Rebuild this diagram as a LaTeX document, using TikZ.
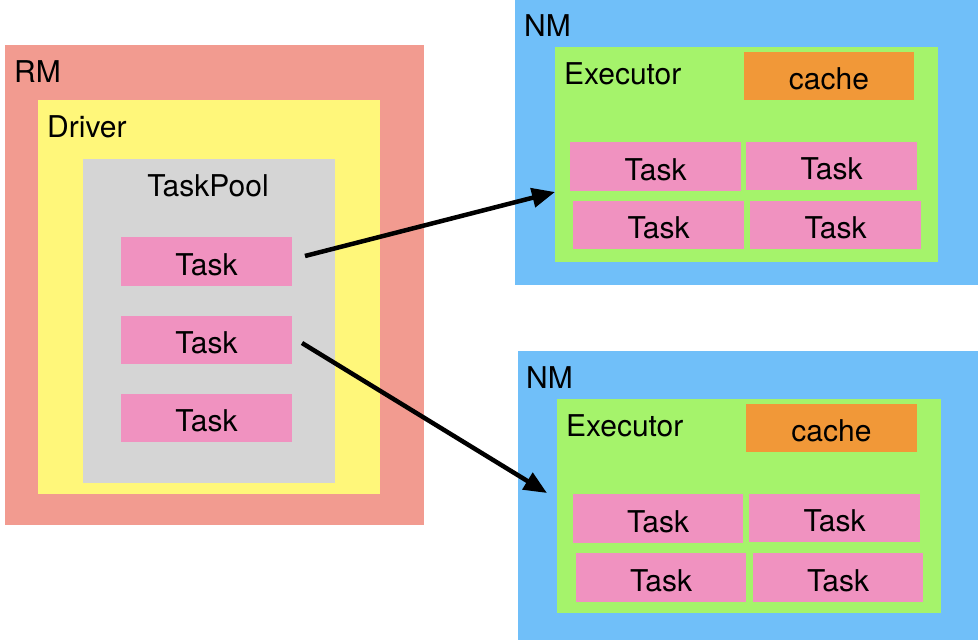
\documentclass[tikz,border=0pt]{standalone}
\usepackage{fontspec}
\setmainfont{TeX Gyre Heros}
\usetikzlibrary{arrows.meta}
\definecolor{rmc}{RGB}{242,155,144}
\definecolor{drvc}{RGB}{255,247,122}
\definecolor{poolc}{RGB}{213,213,213}
\definecolor{taskc}{RGB}{240,146,192}
\definecolor{nmc}{RGB}{112,191,249}
\definecolor{exc}{RGB}{165,243,107}
\definecolor{cachec}{RGB}{241,152,56}
\tikzset{
  blk/.style={anchor=north west, inner sep=0pt, outer sep=0pt, draw=none, text height=27pt, text depth=0pt, font=\fontsize{30}{36}\selectfont},
  taskbox/.style={blk, fill=taskc, minimum width=171pt, minimum height=48pt},
  cachebox/.style={blk, fill=cachec, minimum width=170pt, minimum height=48pt},
  lbl/.style={anchor=base west, inner sep=0pt, font=\fontsize{30}{36}\selectfont},
  flow/.style={line width=4.5pt, -{Triangle[length=23pt, width=19pt]}},
}
\begin{document}
\begin{tikzpicture}[x=1pt, y=-1pt]
\useasboundingbox (0,0) rectangle (978,640);
% left side
\node[blk, fill=rmc, minimum width=419pt, minimum height=480pt] (rm) at (5,45) {};
\node[blk, fill=drvc, minimum width=342pt, minimum height=394pt] (drv) at (38,100) {};
\node[blk, fill=poolc, minimum width=252pt, minimum height=324pt] (pool) at (83,159) {};
\node[lbl] (rmlbl) at (14,82) {RM};
\node[lbl] (drvlbl) at (47,137) {Driver};
\node[lbl, anchor=base] (poollbl) at (208,196) {TaskPool};
\node[taskbox, minimum height=49pt] (t1) at (121,237) {Task};
\node[taskbox] (t2) at (121,316) {Task};
\node[taskbox] (t3) at (121,394) {Task};
% top NM
\node[blk, fill=nmc, minimum width=463pt, minimum height=285pt] (nm1) at (515,0) {};
\node[blk, fill=exc, minimum width=383pt, minimum height=215pt] (ex1) at (555,47) {};
\node[lbl] (nm1lbl) at (524,36) {NM};
\node[lbl] (ex1lbl) at (564,84) {Executor};
\node[cachebox] (c1) at (744,52) {cache};
\node[taskbox, minimum height=49pt] (ta) at (570,142) {Task};
\node[taskbox] (tb) at (746,142) {Task};
\node[taskbox] (tc) at (573,201) {Task};
\node[taskbox] (td) at (750,201) {Task};
% bottom NM
\node[blk, fill=nmc, minimum width=460pt, minimum height=289pt] (nm2) at (518,351) {};
\node[blk, fill=exc, minimum width=384pt, minimum height=214pt] (ex2) at (557,399) {};
\node[lbl] (nm2lbl) at (526,388) {NM};
\node[lbl] (ex2lbl) at (566,436) {Executor};
\node[cachebox, minimum width=171pt] (c2) at (746,404) {cache};
\node[taskbox, minimum width=170pt, minimum height=49pt] (te) at (573,494) {Task};
\node[taskbox] (tf) at (749,494) {Task};
\node[taskbox, minimum width=170pt, minimum height=49pt] (tg) at (576,553) {Task};
\node[taskbox, minimum width=170pt, minimum height=49pt] (th) at (753,553) {Task};
% arrows
\draw[flow] ([xshift=13pt, yshift=5.5pt]t1.east) -- ([yshift=-37.5pt]ex1.west);
\draw[flow] ([xshift=10pt, yshift=-3pt]t2.east) -- ([xshift=-10pt, yshift=13pt]ex2.west);
\end{tikzpicture}
\end{document}
